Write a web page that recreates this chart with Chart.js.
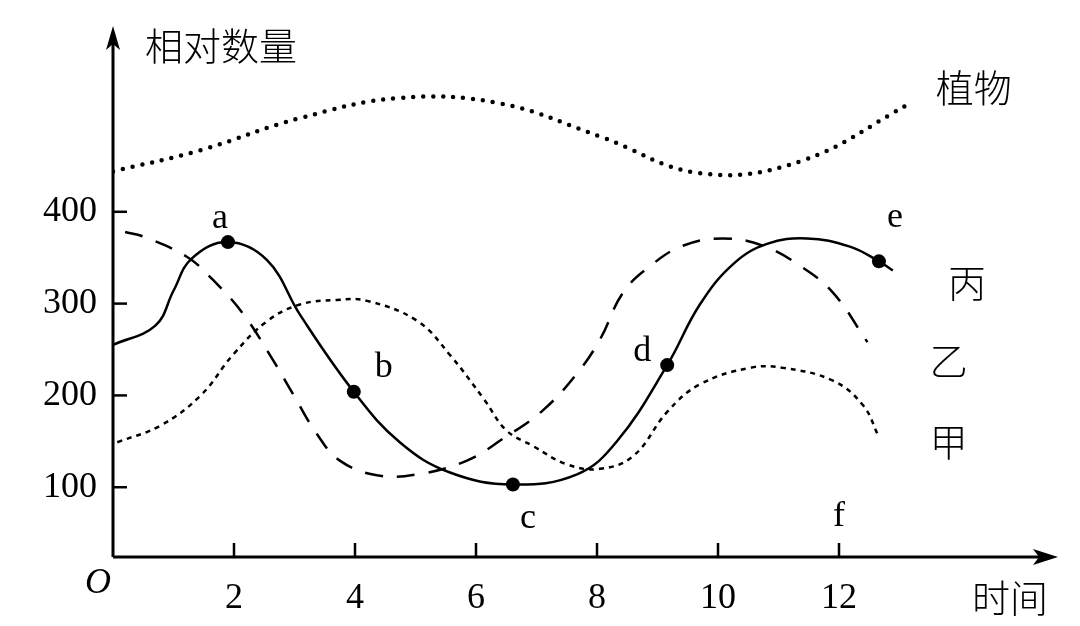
<!DOCTYPE html>
<html><head><meta charset="utf-8">
<script src="https://cdn.jsdelivr.net/npm/chart.js@4"></script>
<style>html,body{margin:0;background:#fff}#w{width:1080px;height:626px}</style>
</head><body><div id="w"><canvas id="c"></canvas></div>
<script>
const xTicks=[2,4,6,8,10,12];
const yTicks=[100,200,300,400];
const plant=[[0,444],[1.44,467],[3.09,502],[4.74,524],[6.4,518],[8.05,482],[9.7,442],[11.36,455],[13.2,519]];
const bing=[[0,255],[0.7,276],[1.0,314],[1.3,349],[1.9,367],[2.55,347],[3.09,288],[3.98,204],[4.74,149],[5.57,116],[6.61,103],[7.67,114],[8.33,150],[9.16,233],[9.7,299],[10.25,343],[10.81,365],[11.47,371],[12.18,362],[12.66,346],[12.89,336]];
const yi=[[0.2,378],[0.5,373],[1.22,351],[1.65,326],[2.15,289],[2.64,239],[2.98,201],[3.37,158],[3.75,129],[4.36,113],[5.03,114],[5.85,129],[6.45,153],[7.11,184],[7.67,224],[8.05,261],[8.43,312],[8.88,341],[9.42,363],[10.08,371],[10.74,363],[11.36,341],[11.9,312],[12.47,258]];
const jia=[[0.07,149],[0.78,167],[1.45,200],[1.98,244],[2.55,281],[3.09,299],[3.7,304],[4.2,303],[5.03,281],[5.57,244],[6.13,196],[6.5,162],[6.94,145],[7.5,125],[8.05,120],[8.6,134],[9.16,182],[9.7,212],[10.53,230],[11.07,230],[11.9,216],[12.4,189],[12.65,156]];
const marks=[{x:1.9,y:367,t:'a',dx:-8,dy:-24},{x:3.98,y:204,t:'b',dx:30,dy:-24},{x:6.61,y:103,t:'c',dx:15,dy:34},{x:9.16,y:233,t:'d',dx:-25,dy:-14},{x:12.66,y:346,t:'e',dx:16,dy:-44}];
const seriesLabels=[{t:'丙',x:13.8,y:323},{t:'乙',x:13.5,y:238},{t:'甲',x:13.5,y:150},{t:'植物',x:13.6,y:535}];
const pts=a=>a.map(p=>({x:p[0],y:p[1]}));
const serif='"Liberation Serif","DejaVu Serif",serif';
const cjk='"Noto Sans CJK SC",sans-serif';
const deco={id:'deco',afterDraw(ch){
 const c=ch.ctx,a=ch.chartArea,X=ch.scales.x,Y=ch.scales.y;
 const ox=a.left,oy=a.bottom;
 c.save();c.strokeStyle='#000';c.fillStyle='#000';c.lineWidth=3;
 c.beginPath();c.moveTo(ox,oy);c.lineTo(a.right-4,oy);c.moveTo(ox,oy);c.lineTo(ox,a.top+4);c.stroke();
 c.beginPath();c.moveTo(a.right+3,oy);c.lineTo(a.right-22,oy-8);c.lineTo(a.right-16,oy);c.lineTo(a.right-22,oy+8);c.closePath();c.fill();
 c.beginPath();c.moveTo(ox,a.top-4);c.lineTo(ox-7,a.top+20);c.lineTo(ox,a.top+14);c.lineTo(ox+7,a.top+20);c.closePath();c.fill();
 c.lineWidth=2.5;
 xTicks.forEach(v=>{const p=X.getPixelForValue(v);c.beginPath();c.moveTo(p,oy);c.lineTo(p,oy-14);c.stroke();});
 yTicks.forEach(v=>{const p=Y.getPixelForValue(v);c.beginPath();c.moveTo(ox,p);c.lineTo(ox+14,p);c.stroke();});
 c.font='36px '+serif;c.textAlign='center';c.textBaseline='middle';
 marks.forEach(m=>c.fillText(m.t,X.getPixelForValue(m.x)+m.dx,Y.getPixelForValue(m.y)+m.dy));
 c.fillText('f',X.getPixelForValue(12),oy-40);
 c.font='italic 36px '+serif;c.fillText('O',98,584);
 c.font='300 38px '+cjk;c.textAlign='left';
 seriesLabels.forEach(s=>c.fillText(s.t,X.getPixelForValue(s.x),Y.getPixelForValue(s.y)));
 c.fillText('相对数量',145,46);c.fillText('时间',972,598);
 c.restore();}};
new Chart(document.getElementById('c'),{type:'line',
 data:{datasets:[
  {data:pts(plant),borderColor:'#000',borderWidth:4.5,borderDash:[0,10],borderCapStyle:'round',pointRadius:0,tension:0.4},
  {data:pts(bing),borderColor:'#000',borderWidth:2.5,pointRadius:0,tension:0.4},
  {data:pts(yi),borderColor:'#000',borderWidth:2.5,borderDash:[18,14],pointRadius:0,tension:0.4},
  {data:pts(jia),borderColor:'#000',borderWidth:2.5,borderDash:[5,5],pointRadius:0,tension:0.4},
  {type:'scatter',data:marks.map(m=>({x:m.x,y:m.y})),pointRadius:7,pointBackgroundColor:'#000',pointBorderWidth:0}
 ]},
 options:{responsive:true,maintainAspectRatio:false,animation:false,events:[],
  layout:{padding:{top:30,right:25,left:0,bottom:0}},
  plugins:{legend:{display:false},tooltip:{enabled:false}},
  scales:{
   x:{type:'linear',min:0,max:15.57,afterFit:s=>{s.height=69},afterBuildTicks:s=>{s.ticks=xTicks.map(v=>({value:v}))},
      grid:{display:false},border:{display:false},ticks:{color:'#000',font:{family:serif,size:36},padding:12}},
   y:{min:24,max:598,afterFit:s=>{s.width=113},afterBuildTicks:s=>{s.ticks=yTicks.map(v=>({value:v}))},
      grid:{display:false},border:{display:false},ticks:{color:'#000',font:{family:serif,size:36},padding:8}}
  }},
 plugins:[deco]});
</script></body></html>
